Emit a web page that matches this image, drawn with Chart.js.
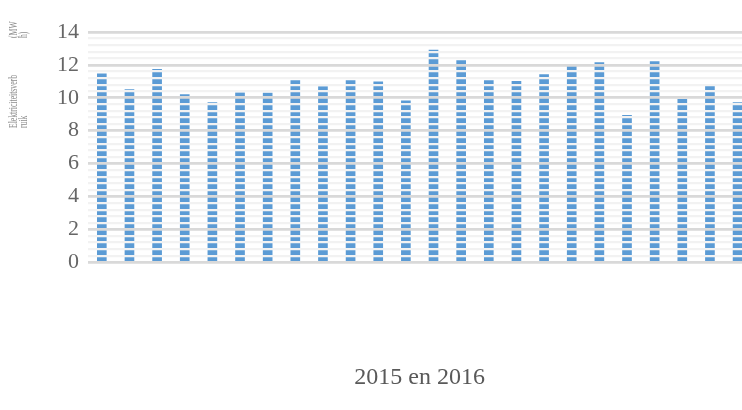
<!DOCTYPE html>
<html>
<head>
<meta charset="utf-8">
<script src="https://cdn.jsdelivr.net/npm/chart.js@4/dist/chart.umd.min.js"></script>
<style>
  html, body { margin: 0; padding: 0; background: #fff; overflow: hidden; }
  #wrap { position: relative; width: 760px; height: 410px; }
</style>
</head>
<body>
<div id="wrap"><canvas id="verbruik"></canvas></div>
<script>
// maanden 2015 en 2016 (labels staan niet zichtbaar in de grafiek)
const maanden = [
  "jan 2015", "feb 2015", "mrt 2015", "apr 2015", "mei 2015", "jun 2015",
  "jul 2015", "aug 2015", "sep 2015", "okt 2015", "nov 2015", "dec 2015",
  "jan 2016", "feb 2016", "mrt 2016", "apr 2016", "mei 2016", "jun 2016",
  "jul 2016", "aug 2016", "sep 2016", "okt 2016", "nov 2016", "dec 2016"
];
// elektriciteitsverbruik in MWh
const verbruik = [
  11.45, 10.5, 11.73, 10.2, 9.71, 10.3, 10.28, 11.05, 10.68, 11.05, 10.97, 9.82,
  12.9, 12.26, 11.05, 11.0, 11.41, 11.94, 12.14, 8.93, 12.2, 9.9, 10.7, 9.71
];
const yMin = 0;
const yMax = 14;
const yStap = 0.4;       // fijne rasterlijnen
const yLabelStap = 2;    // labels en donkere rasterlijnen
const xTitel = "2015 en 2016";
const yTitel = [["Elektriciteitsverb", "ruik"], ["(MW", "h)"]];

const serif = "'Liberation Serif', 'DejaVu Serif', serif";

function isHoofdlijn(v) {
  return Math.abs(v / yLabelStap - Math.round(v / yLabelStap)) < 1e-6;
}

// gedraaide y-as titel, zoals in de originele grafiek verdeeld over twee blokken
const yTitelPlugin = {
  id: "yTitel",
  afterDraw(chart) {
    const ctx = chart.ctx;
    ctx.save();
    ctx.fillStyle = "#8c8c8c";
    ctx.font = "12px " + serif;
    ctx.textAlign = "left";
    ctx.textBaseline = "middle";
    const schaal = 53 / ctx.measureText(yTitel[0][0]).width;
    const blokken = [{ y: 128, regels: yTitel[0] }, { y: 38, regels: yTitel[1] }];
    blokken.forEach(function (b) {
      b.regels.forEach(function (t, i) {
        ctx.save();
        ctx.translate(14 + i * 10, b.y);
        ctx.rotate(-Math.PI / 2);
        ctx.scale(schaal, 1);
        ctx.fillText(t, 0, 0);
        ctx.restore();
      });
    });
    ctx.restore();
  }
};

const ctx = document.getElementById("verbruik").getContext("2d");
new Chart(ctx, {
  type: "bar",
  data: {
    labels: maanden,
    datasets: [{
      label: "Elektriciteitsverbruik (MWh)",
      data: verbruik,
      backgroundColor: "#5b9bd5",
      borderWidth: 0,
      barThickness: 9
    }]
  },
  options: {
    responsive: true,
    maintainAspectRatio: false,
    animation: false,
    layout: { padding: { top: 32, right: 8.6, bottom: 17.6, left: 0 } },
    plugins: {
      legend: { display: false },
      tooltip: { enabled: false }
    },
    scales: {
      x: {
        grid: { display: false, drawTicks: false },
        border: { display: false },
        ticks: { display: false },
        title: {
          display: true,
          text: xTitel,
          color: "#595959",
          font: { family: serif, size: 24 },
          padding: { top: 101.3, bottom: 0 }
        }
      },
      y: {
        min: yMin,
        max: yMax,
        afterFit(scale) { scale.width = 88; },
        border: { display: false },
        grid: {
          z: 1,
          drawTicks: false,
          color(c) { return isHoofdlijn(c.tick.value) ? "#d9d9d9" : "#f2f2f2"; },
          lineWidth(c) { return isHoofdlijn(c.tick.value) ? 2.7 : 2.2; }
        },
        ticks: {
          stepSize: yStap,
          maxTicksLimit: 100,
          autoSkip: false,
          padding: 9,
          color: "#666666",
          font: { family: serif, size: 22 },
          callback(v) { return isHoofdlijn(v) ? String(Math.round(v)) : ""; }
        }
      }
    }
  },
  plugins: [yTitelPlugin]
});
</script>
</body>
</html>
